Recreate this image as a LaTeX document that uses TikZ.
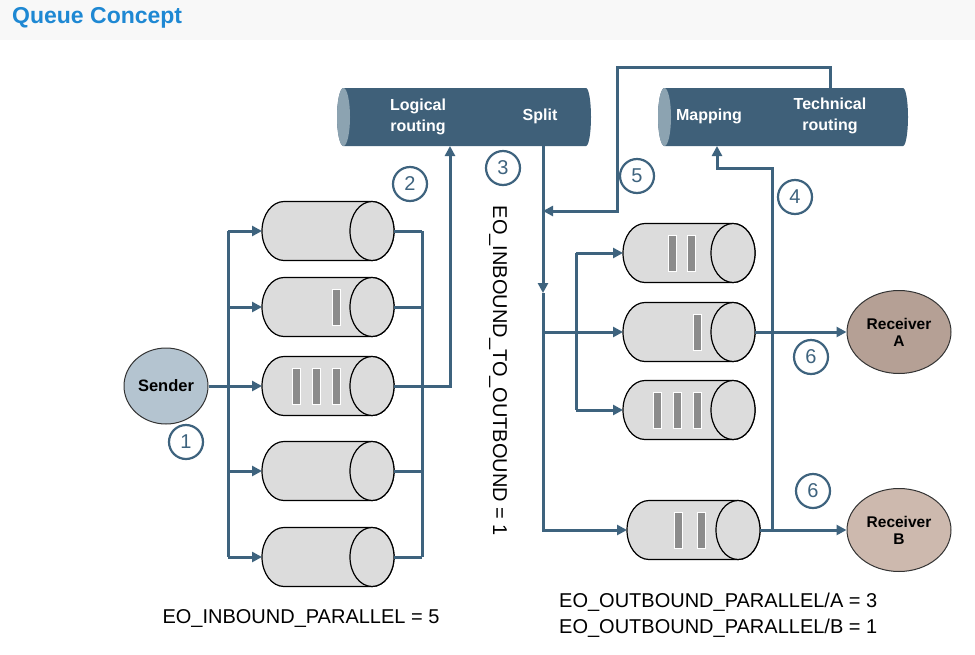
\documentclass[tikz,border=0pt]{standalone}
\usepackage{fontspec}
\setmainfont{Liberation Sans}
\usetikzlibrary{arrows.meta,calc,shapes.geometric}
\definecolor{flowc}{RGB}{62,99,126}
\definecolor{pipec}{RGB}{63,96,121}
\definecolor{pipeface}{RGB}{140,163,177}
\definecolor{qfill}{RGB}{220,220,220}
\definecolor{barc}{RGB}{140,140,140}
\definecolor{sendc}{RGB}{180,196,208}
\definecolor{recAc}{RGB}{181,160,149}
\definecolor{recBc}{RGB}{205,185,174}
\definecolor{titlec}{RGB}{30,136,211}
\definecolor{bandc}{RGB}{248,248,248}
\tikzset{
  flow/.style={draw=flowc, line width=3pt},
  >={Triangle[length=10pt,width=10pt]},
  qbox/.style={rectangle, draw=none, inner sep=0pt, outer sep=0pt, minimum height=59pt},
  pbox/.style={rectangle, draw=none, inner sep=0pt, outer sep=0pt, minimum height=58pt},
  qline/.style={draw=black, line width=1.2pt, fill=qfill},
  bar/.style={fill=barc, draw=white, line width=0.8pt},
  ptext/.style={text=white, font=\fontsize{16}{21}\selectfont\bfseries, align=center},
  numc/.style={circle, draw=flowc, line width=2.2pt, minimum size=34pt, inner sep=0pt, text=flowc, font=\fontsize{20}{24}\selectfont},
  ell/.style={ellipse, draw=black!80, line width=1pt, inner sep=0pt, align=center, font=\fontsize{15.5}{17}\selectfont\bfseries},
  lbl/.style={font=\fontsize{20}{26}\selectfont, text=black}
}
\newcommand\qcyl[4]{% name, left x, center y, right x
  \node[qbox, minimum width={(#4)-(#2)}] (#1) at ({((#2)+(#4))/2},{-(#3)}) {};
  \draw[qline] ({(#4)-22},{-(#3)+29.5}) -- ({(#2)+22},{-(#3)+29.5})
     arc[start angle=90,end angle=270,x radius=22,y radius=29.5]
     -- ({(#4)-22},{-(#3)-29.5})
     arc[start angle=-90,end angle=90,x radius=22,y radius=29.5] -- cycle;
  \draw[qline] ({(#4)-22},{-(#3)}) ellipse[x radius=22,y radius=29.5];
}
\newcommand\qbar[2]{\filldraw[bar] ({(#1)-4},{-(#2)+18}) rectangle ({(#1)+4},{-(#2)-18});}
\newcommand\pipe[3]{% name, left x, right x (y 88..146)
  \node[pbox, minimum width={(#3)-(#2)}] (#1) at ({((#2)+(#3))/2},-117) {};
  \fill[pipec] ({(#2)+6.5},-88) -- ({(#3)-5},-88)
     arc[start angle=90,end angle=-90,x radius=5,y radius=29]
     -- ({(#2)+6.5},-146) arc[start angle=270,end angle=90,x radius=6.5,y radius=29] -- cycle;
  \fill[pipeface] ({(#2)+6.5},-117) ellipse[x radius=6.5,y radius=29];
}
\begin{document}
\begin{tikzpicture}[x=1pt,y=1pt]
\useasboundingbox (0,0) rectangle (975,-654);
\fill[white] (0,0) rectangle (975,-654);
\fill[bandc] (0,0) rectangle (975,-40);
\node[anchor=west, text=titlec, font=\fontsize{23}{27}\selectfont\bfseries, inner sep=0pt] (title) at (12,-18) {Queue Concept};

% top pipes
\pipe{lr}{337}{591}
\pipe{mp}{658}{908}
\node[ptext] (lrt) at (418,-117) {Logical\\routing};
\node[ptext] (spt) at (540,-116) {Split};
\node[ptext] (mpt) at (709,-116) {Mapping};
\node[ptext] (trt) at (830,-116) {Technical\\routing};

% inbound queues
\qcyl{q1}{262}{231}{394}
\qcyl{q2}{262}{307}{394}
\qcyl{q3}{262}{386}{394}
\qcyl{q4}{262}{471}{394}
\qcyl{q5}{262}{557}{394}
\qbar{336}{307}
\qbar{296}{386}\qbar{316}{386}\qbar{336}{386}

% outbound queues
\qcyl{qa1}{623}{253}{755}
\qcyl{qa2}{623}{332}{755}
\qcyl{qa3}{623}{410}{755}
\qcyl{qb}{627}{530}{760}
\qbar{672}{253}\qbar{691}{253}
\qbar{697}{332}
\qbar{657}{410}\qbar{677}{410}\qbar{697}{410}
\qbar{678}{530}\qbar{701}{530}

% sender and receivers
\node[ell, fill=sendc, minimum width=84pt, minimum height=76pt, font=\fontsize{16.5}{20}\selectfont\bfseries] (sender) at (166,-386) {Sender};
\node[ell, fill=recAc, minimum width=104pt, minimum height=83pt] (recA) at (899,-332) {Receiver\\A};
\node[ell, fill=recBc, minimum width=104pt, minimum height=83pt] (recB) at (899,-530) {Receiver\\B};

% inbound fan-out
\coordinate (bL) at (228,-386);
\draw[flow] (sender.east) -- (bL);
\draw[flow] (bL |- q1.west) -- (bL |- q5.west);
\foreach \q in {q1,q2,q3,q4,q5} \draw[flow,->] (bL |- \q.west) -- (\q.west);

% inbound fan-in
\coordinate (bR) at (422,-386);
\foreach \q in {q1,q2,q3,q4,q5} \draw[flow] (\q.east) -- (bR |- \q.east);
\draw[flow] (bR |- q1.east) -- (bR |- q5.east);
\coordinate (up2) at (450,-386);
\draw[flow,->] (q3.east) -- (up2) -- (up2 |- lr.south);

% split down
\coordinate (sd) at (543,-293);
\coordinate (sb) at (543,-530);
\draw[flow,->] (lr.south -| sd) -- (sd);
\draw[flow,->] (sd) -- (sb) -- (qb.west);
\draw[flow,->] (sd |- qa2.west) -- (qa2.west);
\coordinate (bo) at (576,-332);
\draw[flow] (bo |- qa1.west) -- (bo |- qa3.west);
\draw[flow,->] (bo |- qa1.west) -- (qa1.west);
\draw[flow,->] (bo |- qa3.west) -- (qa3.west);

% return 5
\coordinate (r5a) at (830,-67);
\coordinate (r5b) at (617,-211);
\draw[flow,->] (mp.north -| r5a) -- (r5a) -| (r5b) -- (r5b -| sd);

% outputs
\draw[flow,->] (qa2.east) -- (recA.west);
\draw[flow,->] (qb.east) -- (recB.west);

% line 4
\coordinate (j4) at (772,-530);
\coordinate (k4) at (717,-168);
\draw[flow,->] (j4) |- (k4) -- (k4 |- mp.south);

% numbers
\node[numc] (n1) at (186,-442) {1};
\node[numc] (n2) at (410,-184) {2};
\node[numc] (n3) at (503,-168) {3};
\node[numc] (n4) at (795,-197) {4};
\node[numc] (n5) at (637,-176) {5};
\node[numc] (n6a) at (811,-357) {6};
\node[numc] (n6b) at (813,-491) {6};

% labels
\node[lbl, rotate=-90] (eoi) at (498,-371) {EO\_INBOUND\_TO\_OUTBOUND = 1};
\node[lbl] (eop) at (301,-618) {EO\_INBOUND\_PARALLEL = 5};
\node[lbl, anchor=west, align=left, inner sep=0pt] (eoo) at (559,-615) {EO\_OUTBOUND\_PARALLEL/A = 3\\EO\_OUTBOUND\_PARALLEL/B = 1};
\end{tikzpicture}
\end{document}
